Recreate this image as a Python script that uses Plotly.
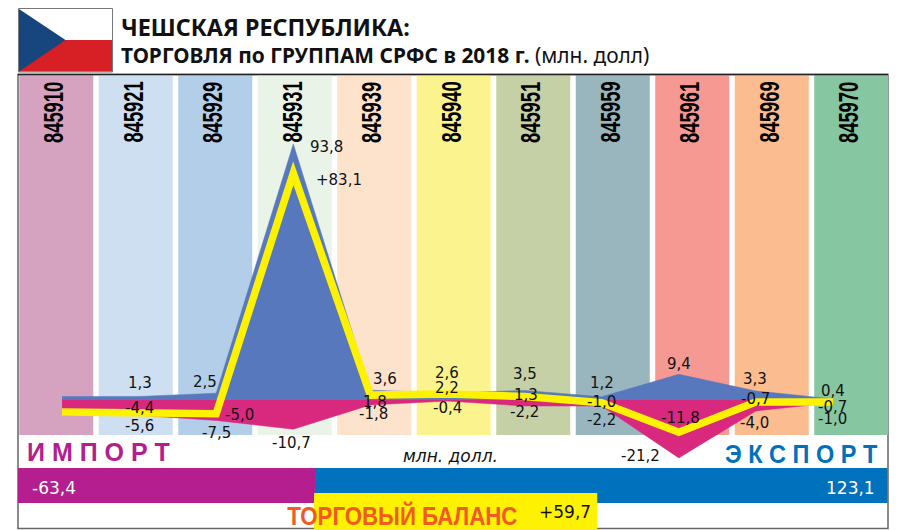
import json
import plotly.graph_objects as go

W, H = 921, 530

# ---- data ----
codes = ["845910", "845921", "845929", "845931", "845939", "845940",
         "845951", "845959", "845961", "845969", "845970"]
export_vals = [1.3, 1.3, 2.5, 93.8, 3.6, 2.6, 3.5, 1.2, 9.4, 3.3, 0.4]
import_vals = [-5.6, -5.6, -7.5, -10.7, -1.8, -0.4, -2.2, -2.2, -21.2, -4.0, -1.0]
balance_vals = [-4.4, -4.4, -5.0, 83.1, 1.8, 2.2, 1.3, -1.0, -11.8, -0.7, -0.7]
total_import = 63.4
total_export = 123.1
total_balance = 59.7

# ---- styles / layout ----
band_colors = ["#d5a3c0", "#cddff1", "#b3cee8", "#eaf3e8", "#fee3cc", "#faf38e",
               "#c5d0a6", "#99b6be", "#f79993", "#fbbc8f", "#86c6a0"]
BLUE, MAGENTA, YELLOW = "#5778bc", "#d9297e", "#fff200"
PURPLE, EXP_BLUE, ORANGE = "#b41e8e", "#0071bc", "#f15a24"
LABEL_FONT = "DejaVu Sans"
HEAVY = "Liberation Sans"

# label centres in pixels, None = value not labelled
export_label_xy = [None, (140, 383), (205, 382), (326, 147), (385, 379), (447, 373),
                   (525, 374), (602, 383), (679, 364), (755, 379), (833, 391)]
import_label_xy = [None, (139, 426), (216, 433), (291, 443), (373, 414), (447, 408),
                   (524, 412), (601, 420), (640, 456), (754, 423), (832, 419)]
balance_label_xy = [None, (139, 408), (239, 415), (339, 180), (375, 402), (447, 388),
                    (526, 395), (601, 402), (680, 418), (755, 399), (832, 407)]


def px(x):
    return x / W


def py(y):
    return 1 - y / H


def fmt(v, plus=False):
    s = f"{v:.1f}".replace(".", ",")
    return "+" + s if plus else s


X0, DX = 62, 77.1            # pixel of first point, pixel step
Y0, K = 400, 2.73            # pixel of zero, pixels per unit
line_xrange = [(0 - X0) / DX, (W - X0) / DX]
line_yrange = [(Y0 - H) / K, Y0 / K]

fig = go.Figure()

# coloured category bands
fig.add_trace(go.Bar(x=codes, y=[1] * len(codes), marker=dict(color=band_colors, line_width=0),
                     xaxis="x", yaxis="y"))
# export / import areas + balance line
fig.add_trace(go.Scatter(x=codes, y=export_vals, mode="lines", fill="tozeroy",
                         fillcolor=BLUE, line=dict(color=BLUE, width=0.5), xaxis="x2", yaxis="y2"))
fig.add_trace(go.Scatter(x=codes, y=import_vals, mode="lines", fill="tozeroy",
                         fillcolor=MAGENTA, line=dict(color=MAGENTA, width=0.5), xaxis="x2", yaxis="y2"))
fig.add_trace(go.Scatter(x=codes, y=balance_vals, mode="lines",
                         line=dict(color=YELLOW, width=7.5), xaxis="x2", yaxis="y2"))
# totals
fig.add_trace(go.Bar(y=[0], x=[total_import], base=[0], orientation="h",
                     marker=dict(color=PURPLE, line_width=0), xaxis="x3", yaxis="y3"))
fig.add_trace(go.Bar(y=[0], x=[total_export], base=[total_import], orientation="h",
                     marker=dict(color=EXP_BLUE, line_width=0), xaxis="x3", yaxis="y3"))
fig.add_trace(go.Bar(y=[0], x=[total_balance], base=[0], orientation="h",
                     marker=dict(color=YELLOW, line_width=0), xaxis="x4", yaxis="y4"))

BARGAP = 0.069
half = (1 - BARGAP) / 2
hidden = dict(visible=False, showgrid=False, zeroline=False, fixedrange=True)

annotations = []
squeeze = {}   # annotation index -> horizontal text scale


def note(text, x, y, size, color="#111111", family=LABEL_FONT, sx=None, **kw):
    if sx:
        squeeze[len(annotations)] = sx
    annotations.append(dict(text=text, x=px(x), y=py(y), xref="paper", yref="paper",
                            showarrow=False, xanchor=kw.pop("xanchor", "center"), yanchor="middle",
                            font=dict(size=size, color=color, family=family), **kw))


for vals, xy, plus in ((export_vals, export_label_xy, False),
                       (import_vals, import_label_xy, False),
                       (balance_vals, balance_label_xy, True)):
    for i, (v, p) in enumerate(zip(vals, xy)):
        if p is not None:
            note(fmt(v, plus and i == 3), p[0], p[1], 15)

for i, c in enumerate(codes):
    squeeze[len(annotations)] = 0.67
    annotations.append(dict(text=f"<b>{c}</b>", x=i, y=py(112), xref="x", yref="paper",
                            xshift=-2, showarrow=False, textangle=-90, yanchor="middle",
                            font=dict(size=27.5, color="#000000", family=HEAVY)))

note("<b>ЧЕШСКАЯ РЕСПУБЛИКА:</b>", 119, 27, 23.3, "#111111", "Noto Sans", xanchor="left")
note("<b>ТОРГОВЛЯ по ГРУППАМ СРФС в 2018 г.</b> <span style='font-weight:400'>(млн. долл)</span>",
     119, 55, 20.9, "#111111", "Noto Sans", xanchor="left")
note("<b>И М П О Р Т</b>", 98, 452, 25, PURPLE, HEAVY)
note("<b>Э К С П О Р Т</b>", 801, 454, 25, EXP_BLUE, HEAVY, sx=0.94)
note("<i>млн. долл.</i>", 450, 456, 17)
note(fmt(-total_import), 53.5, 488, 17, "#ffffff")
note(fmt(total_export), 850.5, 488, 17, "#ffffff")
note("<b>ТОРГОВЫЙ БАЛАНС</b>", 402.5, 515, 25, ORANGE, HEAVY, sx=0.89)
note(fmt(total_balance, True), 565, 512, 17)

shapes = [
    dict(type="rect", xref="paper", yref="paper", x0=px(18), x1=px(888), y0=py(528.5), y1=py(74.5),
         line=dict(color="#666666", width=1.5), fillcolor="#ffffff", layer="below"),
    dict(type="line", xref="paper", yref="paper", x0=px(18), x1=px(888), y0=py(74.5), y1=py(74.5),
         line=dict(color="#222222", width=1.5)),
    dict(type="rect", xref="paper", yref="paper", x0=px(18.5), x1=px(112.5), y0=py(72), y1=py(8.5),
         line=dict(color="#777777", width=1), fillcolor="#ffffff"),
    dict(type="rect", xref="paper", yref="paper", x0=px(19), x1=px(112), y0=py(71.5), y1=py(40),
         line_width=0, fillcolor="#d71f26"),
    dict(type="path", xref="paper", yref="paper", line_width=0, fillcolor="#17457d",
         path=f"M {px(19)} {py(9)} L {px(65.5)} {py(40)} L {px(19)} {py(71.5)} Z"),
]

fig.update_layout(
    width=W, height=H, margin=dict(l=0, r=0, t=0, b=0), autosize=False,
    paper_bgcolor="#ffffff", plot_bgcolor="rgba(0,0,0,0)", showlegend=False,
    hovermode=False, barmode="overlay", bargap=BARGAP,
    annotations=annotations, shapes=shapes,
    xaxis=dict(hidden, type="category", domain=[px(16.5), px(891)], range=[-0.5, 10.5], anchor="y"),
    yaxis=dict(hidden, domain=[py(435), py(75)], range=[0, 1], anchor="x"),
    xaxis2=dict(hidden, type="category", domain=[0, 1], range=line_xrange, anchor="y2"),
    yaxis2=dict(hidden, domain=[0, 1], range=line_yrange, anchor="x2"),
    xaxis3=dict(hidden, domain=[px(18), px(887.5)], range=[0, 185.6], anchor="y3"),
    yaxis3=dict(hidden, domain=[py(503), py(468)], range=[-half, half], anchor="x3"),
    xaxis4=dict(hidden, domain=[px(314), px(597.5)], range=[0, total_balance], anchor="y4"),
    yaxis4=dict(hidden, domain=[py(529), py(493)], range=[-half, half], anchor="x4"),
)

post = """
document.body.style.margin = '0';
document.querySelectorAll('.js-line').forEach(function (p) { p.style.strokeMiterlimit = '10'; });
var squeeze = %s;
document.querySelectorAll('.annotation').forEach(function (a) {
  var s = squeeze[a.getAttribute('data-index')];
  var t = a.querySelector('text');
  if (s && t) {
    t.style.transformBox = 'fill-box';
    t.style.transformOrigin = 'center';
    t.style.transform = 'scaleX(' + s + ')';
  }
});
""" % json.dumps(squeeze)

fig.write_html("out.html", config=dict(displayModeBar=False), post_script=post)
